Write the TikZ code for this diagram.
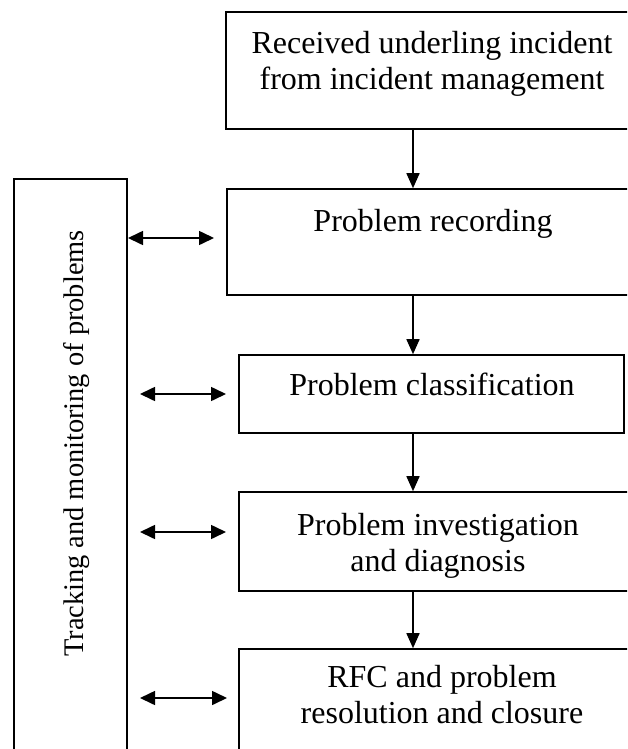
\documentclass[tikz,border=0pt]{standalone}
\usepackage{fontspec}
\setmainfont{Liberation Serif}
\usetikzlibrary{arrows.meta}
\begin{document}
\begin{tikzpicture}[x=1pt,y=-1pt,
  box/.style={draw,line width=1.6pt,rectangle,inner sep=0pt},
  lbl/.style={inner sep=0pt,align=center,anchor=base,font=\fontsize{32}{36}\selectfont},
  flow/.style={line width=1.6pt,-{Triangle[length=15pt,width=13pt]}},
  both/.style={line width=1.6pt,{Triangle[length=15pt,width=14pt]}-{Triangle[length=15pt,width=14pt]}}]
\useasboundingbox (0,0) rectangle (627,749);
\clip (0,0) rectangle (627,749);
% boxes
\node[box,minimum width=412pt,minimum height=117pt] (top) at (432,70.5) {};
\node[box,minimum width=411pt,minimum height=106pt] (rec) at (432.5,242) {};
\node[box,minimum width=385pt,minimum height=78pt] (cls) at (431.5,394) {};
\node[box,minimum width=399pt,minimum height=99pt] (inv) at (438.5,541.5) {};
\node[box,minimum width=399pt,minimum height=121pt] (rfc) at (438.5,709.5) {};
\node[box,minimum width=113pt,minimum height=591pt] (track) at (70.5,474.5) {};
% texts (base anchor = baseline of last line)
\node[lbl] (ttop) at (432,90) {Received underling incident\\from incident management};
\node[lbl] (trec) at (433,231) {Problem recording};
\node[lbl] (tcls) at (432,395) {Problem classification};
\node[lbl] (tinv) at (438,571) {Problem investigation\\and diagnosis};
\node[lbl] (trfc) at (442,723) {RFC and problem\\resolution and closure};
\node[inner sep=0pt,anchor=base,rotate=90,font=\fontsize{28.4}{34}\selectfont] (ttrack) at (83,443.5) {Tracking and monitoring of problems};
% vertical flow
\coordinate (ax) at (413,0);
\draw[flow] (top.south -| ax) -- (rec.north -| ax);
\draw[flow] (rec.south -| ax) -- (cls.north -| ax);
\draw[flow] (cls.south -| ax) -- (inv.north -| ax);
\draw[flow] (inv.south -| ax) -- (rfc.north -| ax);
% double arrows
\coordinate (a1l) at (128,238);  \coordinate (a1r) at (214,238);
\coordinate (a2l) at (140,394);  \coordinate (a2r) at (226,394);
\coordinate (a3l) at (140,532);  \coordinate (a3r) at (226,532);
\coordinate (a4l) at (140,698);  \coordinate (a4r) at (227,698);
\draw[both] (a1l) -- (a1r);
\draw[both] (a2l) -- (a2r);
\draw[both] (a3l) -- (a3r);
\draw[both] (a4l) -- (a4r);
\end{tikzpicture}
\end{document}
